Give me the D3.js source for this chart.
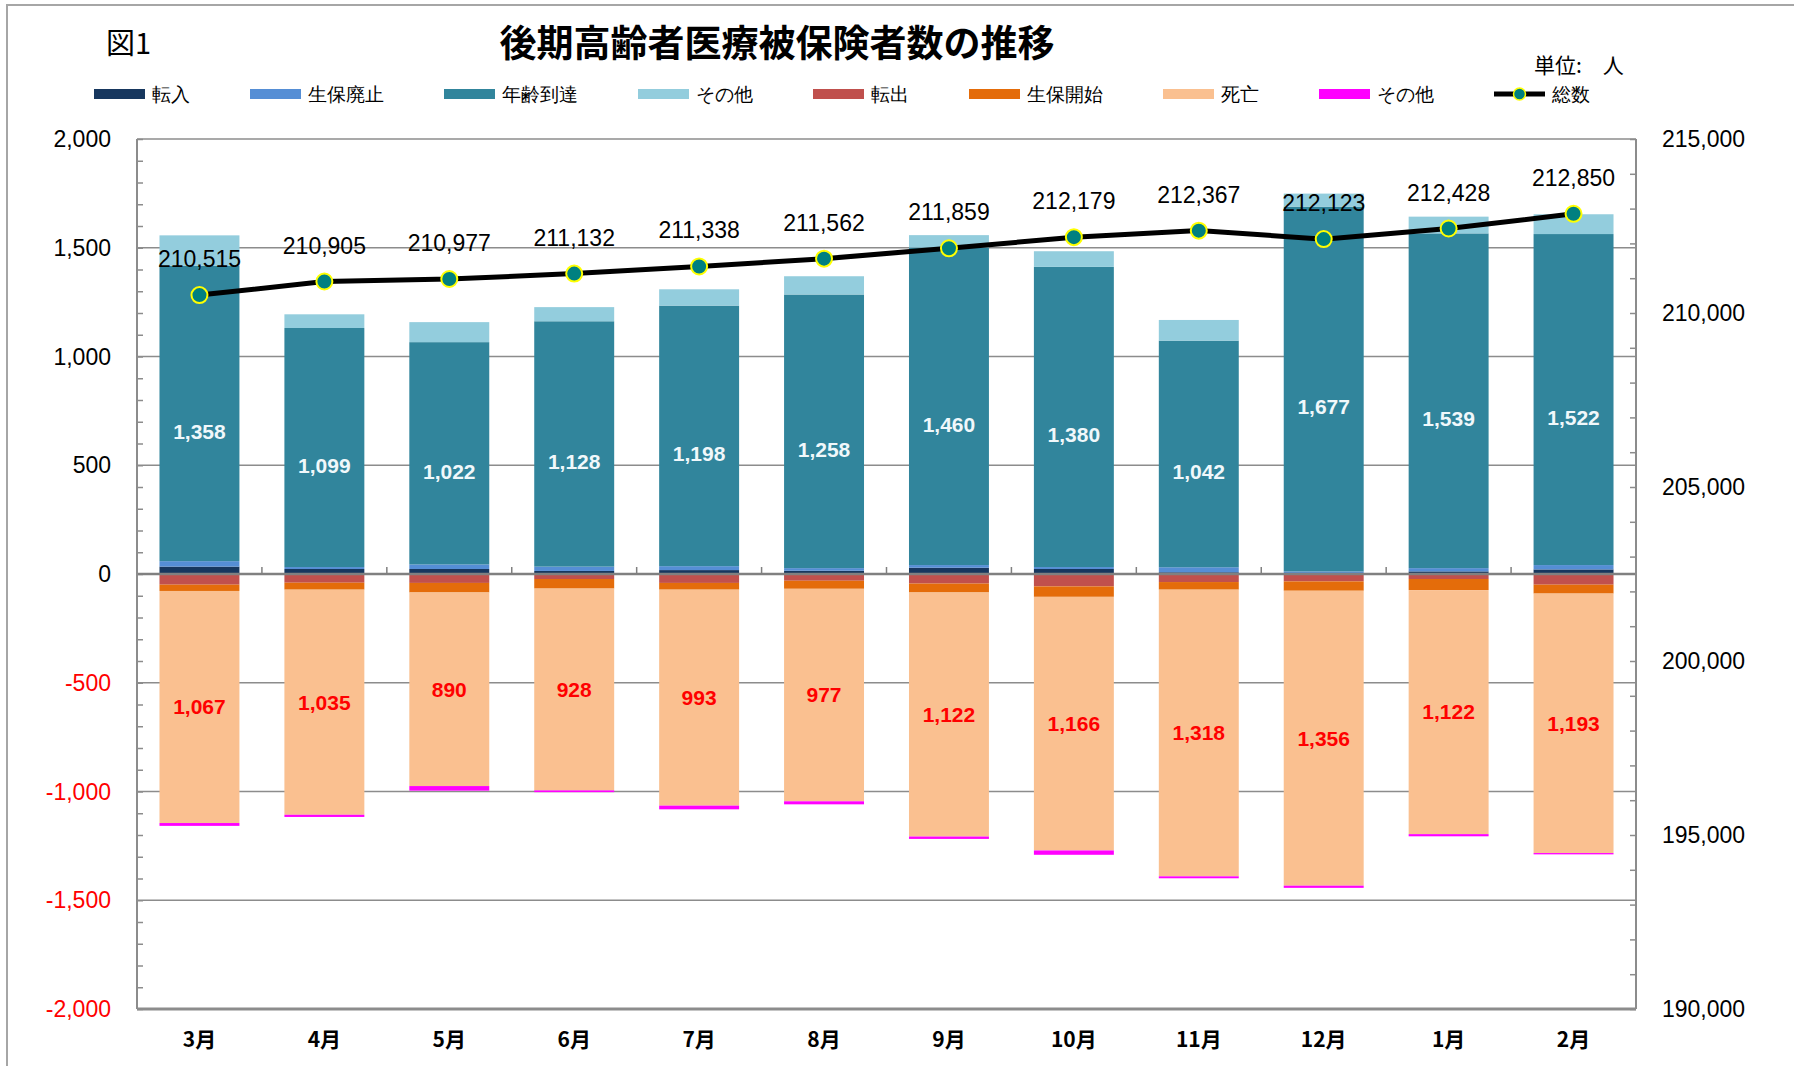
<!DOCTYPE html>
<html>
<head>
<meta charset="utf-8">
<script src="https://cdn.jsdelivr.net/npm/d3@7"></script>
<style>
  body { margin: 0; background: #fff; }
  text { font-family: "Liberation Sans", Arial, sans-serif; }
  .jp { font-family: "Noto Sans CJK JP", sans-serif; }
</style>
</head>
<body>
<script>

// data
var months = ["3月", "4月", "5月", "6月", "7月", "8月", "9月", "10月", "11月", "12月", "1月", "2月"];

var tennyu        = [34, 23, 23, 14, 18, 15, 29, 23, 8, 4, 12, 21];
var seihoHaishi   = [25, 9, 21, 20, 18, 12, 12, 9, 23, 8, 15, 20];
var nenreiTotatsu = [1358, 1099, 1022, 1128, 1198, 1258, 1460, 1380, 1042, 1677, 1539, 1522];
var sonotaIn      = [140, 63, 92, 65, 75, 84, 57, 72, 95, 60, 77, 91];
var tenshutsu     = [-49, -40, -41, -23, -41, -31, -44, -57, -37, -34, -23, -49];
var seihoKaishi   = [-29, -32, -44, -44, -31, -37, -41, -48, -35, -43, -51, -41];
var shibou        = [-1067, -1035, -890, -928, -993, -977, -1122, -1166, -1318, -1356, -1122, -1193];
var sonotaOut     = [-13, -10, -21, -8, -17, -14, -11, -20, -9, -10, -10, -6];
var total         = [210515, 210905, 210977, 211132, 211338, 211562, 211859, 212179, 212367, 212123, 212428, 212850];

var leftTicks  = [2000, 1500, 1000, 500, 0, -500, -1000, -1500, -2000];
var rightTicks = [215000, 210000, 205000, 200000, 195000, 190000];

var series = [
  {key: "tennyu",  name: "転入",     color: "#17375E", values: tennyu},
  {key: "haishi",  name: "生保廃止", color: "#558ED5", values: seihoHaishi},
  {key: "nenrei",  name: "年齢到達", color: "#31859C", values: nenreiTotatsu},
  {key: "sonota1", name: "その他",   color: "#93CDDD", values: sonotaIn},
  {key: "tenshu",  name: "転出",     color: "#C0504D", values: tenshutsu},
  {key: "kaishi",  name: "生保開始", color: "#E46C0A", values: seihoKaishi},
  {key: "shibou",  name: "死亡",     color: "#FAC090", values: shibou},
  {key: "sonota2", name: "その他",   color: "#FF00FF", values: sonotaOut}
];

var W = 1794, H = 1066;
var plot = {left: 137, right: 1636, top: 139, bottom: 1009};

var svg = d3.select("body").append("svg")
    .attr("width", W)
    .attr("height", H);

// outer chart frame
svg.append("rect")
    .attr("x", 7).attr("y", 5)
    .attr("width", W + 20).attr("height", H + 20)
    .attr("fill", "none")
    .attr("stroke", "#a6a6a6")
    .attr("stroke-width", 2);

var rows = months.map(function(m, i) {
  var r = {month: m};
  series.forEach(function(s) { r[s.key] = s.values[i]; });
  return r;
});

var stack = d3.stack()
    .keys(series.map(function(s) { return s.key; }))
    .offset(d3.stackOffsetDiverging);
var layers = stack(rows);

var x = d3.scaleBand()
    .domain(months)
    .range([plot.left, plot.right])
    .paddingInner(0.36)
    .paddingOuter(0.18);

var y = d3.scaleLinear().domain([-2000, 2000]).range([plot.bottom, plot.top]);
var y2 = d3.scaleLinear().domain([190000, 215000]).range([plot.bottom, plot.top]);

// excel style numbers, plain hyphen for negatives
var comma = d3.format(",");
function fmt(d) { return (d < 0 ? "-" : "") + comma(Math.abs(d)); }

// gridlines
svg.append("g")
  .selectAll("line")
  .data(leftTicks.filter(function(d) { return d !== 0 && d !== -2000; }))
  .enter().append("line")
    .attr("x1", plot.left).attr("x2", plot.right)
    .attr("y1", function(d) { return y(d); })
    .attr("y2", function(d) { return y(d); })
    .attr("stroke", "#8c8c8c")
    .attr("stroke-width", 1.5);

// bars
var colorOf = {};
series.forEach(function(s) { colorOf[s.key] = s.color; });

svg.append("g")
  .selectAll("g")
  .data(layers)
  .enter().append("g")
    .attr("fill", function(d) { return colorOf[d.key]; })
  .selectAll("rect")
  .data(function(d) { return d; })
  .enter().append("rect")
    .attr("x", function(d) { return x(d.data.month); })
    .attr("width", x.bandwidth())
    .attr("y", function(d) { return y(Math.max(d[0], d[1])); })
    .attr("height", function(d) { return Math.abs(y(d[0]) - y(d[1])); });

// minor ticks, left axis (inside)
svg.append("g").call(
  d3.axisRight(y).tickValues(d3.range(-2000, 2001, 100)).tickSize(6).tickFormat("")
).attr("transform", "translate(" + plot.left + ",0)")
 .call(function(g) {
   g.select(".domain").remove();
   g.selectAll("line").attr("stroke", "#8c8c8c").attr("stroke-width", 1.5);
 });

// minor ticks, right axis (inside)
svg.append("g").call(
  d3.axisLeft(y2).tickValues(d3.range(190000, 215001, 1000)).tickSize(6).tickFormat("")
).attr("transform", "translate(" + plot.right + ",0)")
 .call(function(g) {
   g.select(".domain").remove();
   g.selectAll("line").attr("stroke", "#8c8c8c").attr("stroke-width", 1.5);
 });

// zero axis with category boundary ticks
svg.append("line")
    .attr("x1", plot.left).attr("x2", plot.right)
    .attr("y1", y(0)).attr("y2", y(0))
    .attr("stroke", "#808080").attr("stroke-width", 2.5);

svg.append("g")
  .selectAll("line")
  .data(months.slice(1))
  .enter().append("line")
    .attr("x1", function(d) { return x(d) - x.step() * x.paddingInner() / 2; })
    .attr("x2", function(d) { return x(d) - x.step() * x.paddingInner() / 2; })
    .attr("y1", y(0)).attr("y2", y(0) - 7)
    .attr("stroke", "#808080").attr("stroke-width", 1.5);

// frame lines
svg.append("line")
    .attr("x1", plot.left).attr("x2", plot.right)
    .attr("y1", plot.bottom).attr("y2", plot.bottom)
    .attr("stroke", "#8c8c8c").attr("stroke-width", 3);
svg.append("line")
    .attr("x1", plot.left).attr("x2", plot.left)
    .attr("y1", plot.top).attr("y2", plot.bottom)
    .attr("stroke", "#8c8c8c").attr("stroke-width", 2);
svg.append("line")
    .attr("x1", plot.right).attr("x2", plot.right)
    .attr("y1", plot.top).attr("y2", plot.bottom)
    .attr("stroke", "#8c8c8c").attr("stroke-width", 2);

// axis labels
svg.append("g")
  .selectAll("text")
  .data(leftTicks)
  .enter().append("text")
    .attr("x", 111)
    .attr("y", function(d) { return y(d); })
    .attr("dy", "0.35em")
    .attr("text-anchor", "end")
    .attr("font-size", "23px")
    .attr("fill", function(d) { return d < 0 ? "#ff0000" : "#000"; })
    .text(function(d) { return fmt(d); });

svg.append("g")
  .selectAll("text")
  .data(rightTicks)
  .enter().append("text")
    .attr("x", 1662)
    .attr("y", function(d) { return y2(d); })
    .attr("dy", "0.35em")
    .attr("font-size", "23px")
    .attr("fill", "#000")
    .text(function(d) { return fmt(d); });

svg.append("g")
  .selectAll("text")
  .data(months)
  .enter().append("text")
    .attr("class", "jp")
    .attr("x", function(d) { return x(d) + x.bandwidth() / 2; })
    .attr("y", 1040)
    .attr("dy", "0.35em")
    .attr("text-anchor", "middle")
    .attr("font-size", "21px")
    .attr("font-weight", "bold")
    .text(function(d) { return d; });

// segment value labels
var nenreiLayer = layers[2], shibouLayer = layers[6];
svg.append("g")
  .selectAll("text")
  .data(nenreiLayer)
  .enter().append("text")
    .attr("x", function(d) { return x(d.data.month) + x.bandwidth() / 2; })
    .attr("y", function(d) { return y((d[0] + d[1]) / 2) + 18; })
    .attr("dy", "0.35em")
    .attr("text-anchor", "middle")
    .attr("font-size", "21px")
    .attr("font-weight", "bold")
    .attr("fill", "#f0f8fb")
    .text(function(d) { return fmt(d.data.nenrei); });

svg.append("g")
  .selectAll("text")
  .data(shibouLayer)
  .enter().append("text")
    .attr("x", function(d) { return x(d.data.month) + x.bandwidth() / 2; })
    .attr("y", function(d) { return y((d[0] + d[1]) / 2); })
    .attr("dy", "0.35em")
    .attr("text-anchor", "middle")
    .attr("font-size", "21px")
    .attr("font-weight", "bold")
    .attr("fill", "#ff0000")
    .text(function(d) { return fmt(-d.data.shibou); });

// total line
var line = d3.line()
    .x(function(d, i) { return x(months[i]) + x.bandwidth() / 2; })
    .y(function(d) { return y2(d); });

svg.append("path")
    .datum(total)
    .attr("d", line)
    .attr("fill", "none")
    .attr("stroke", "#000")
    .attr("stroke-width", 5);

svg.append("g")
  .selectAll("circle")
  .data(total)
  .enter().append("circle")
    .attr("cx", function(d, i) { return x(months[i]) + x.bandwidth() / 2; })
    .attr("cy", function(d) { return y2(d); })
    .attr("r", 8)
    .attr("fill", "#008080")
    .attr("stroke", "#ffff00")
    .attr("stroke-width", 2);

svg.append("g")
  .selectAll("text")
  .data(total)
  .enter().append("text")
    .attr("x", function(d, i) { return x(months[i]) + x.bandwidth() / 2; })
    .attr("y", function(d) { return y2(d) - 36; })
    .attr("dy", "0.35em")
    .attr("text-anchor", "middle")
    .attr("font-size", "23px")
    .attr("fill", "#000")
    .text(function(d) { return fmt(d); });

// titles
svg.append("text")
    .attr("class", "jp")
    .attr("x", 777).attr("y", 44)
    .attr("dy", "0.35em")
    .attr("text-anchor", "middle")
    .attr("font-size", "37px")
    .attr("font-weight", "bold")
    .text("後期高齢者医療被保険者数の推移");

svg.append("text")
    .attr("class", "jp")
    .attr("x", 106).attr("y", 44)
    .attr("dy", "0.35em")
    .attr("font-size", "29px")
    .text("図1");

svg.append("text")
    .attr("class", "jp")
    .attr("x", 1534).attr("y", 66)
    .attr("dy", "0.35em")
    .attr("font-size", "21px")
    .text("単位:　人");

// legend
var legend = svg.append("g").attr("class", "jp");
var lx = 94, ly = 94;
series.forEach(function(s) {
  legend.append("rect")
      .attr("x", lx).attr("y", ly - 5)
      .attr("width", 51).attr("height", 10)
      .attr("fill", s.color);
  var t = legend.append("text")
      .attr("x", lx + 58).attr("y", ly)
      .attr("dy", "0.35em")
      .attr("font-size", "19px")
      .text(s.name);
  lx += 58 + t.node().getComputedTextLength() + 60;
});
legend.append("line")
    .attr("x1", lx).attr("x2", lx + 51)
    .attr("y1", ly).attr("y2", ly)
    .attr("stroke", "#000").attr("stroke-width", 5);
legend.append("circle")
    .attr("cx", lx + 25.5).attr("cy", ly)
    .attr("r", 6)
    .attr("fill", "#008080")
    .attr("stroke", "#ffff00")
    .attr("stroke-width", 1.5);
legend.append("text")
    .attr("x", lx + 58).attr("y", ly)
    .attr("dy", "0.35em")
    .attr("font-size", "19px")
    .text("総数");

</script>
</body>
</html>
